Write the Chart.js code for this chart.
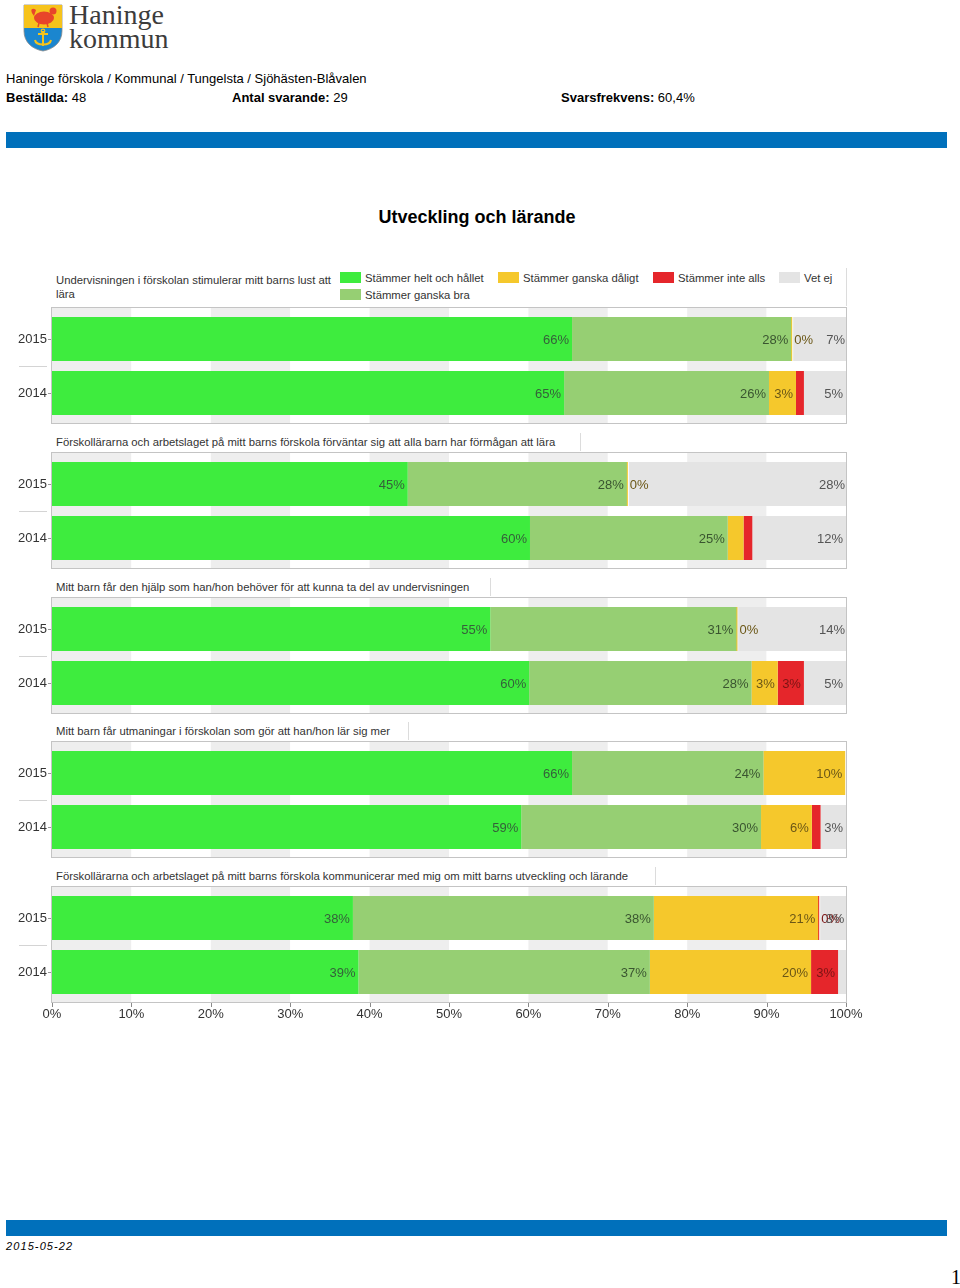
<!DOCTYPE html>
<html>
<head>
<meta charset="utf-8">
<script src="https://cdn.jsdelivr.net/npm/chart.js@4/dist/chart.umd.min.js"></script>
<style>
  body { margin: 0; width: 960px; height: 1288px; position: relative; overflow: hidden; background: #fff; font-family: "Liberation Sans", Arial, sans-serif; color: #000; }
  .a { position: absolute; white-space: nowrap; }
  .bar { position: absolute; left: 6px; width: 941px; height: 16px; background: #0070bb; }
  .q { position: absolute; left: 56px; font-size: 11.3px; line-height: 14px; color: #333; }
  .sep { position: absolute; width: 1px; background: #dcdcdc; }
  .lg { position: absolute; font-size: 11.3px; line-height: 12px; color: #333; white-space: nowrap; }
  .lg i { position: absolute; left: -25px; top: 0; width: 21px; height: 11px; }
  canvas { position: absolute; left: 0; }
</style>
</head>
<body>

<svg class="a" style="left:23px;top:4px" width="40" height="48" viewBox="0 0 40 48">
  <path d="M1 1 H39 V27 C39 38 31 45 20 47 C9 45 1 38 1 27 Z" fill="#1b86cf" stroke="#8a8a8a" stroke-width="0.8"/>
  <path d="M1 1 H39 V24 H1 Z" fill="#f6c31c"/>
  <ellipse cx="21" cy="14" rx="10" ry="6.5" fill="#e8452a"/>
  <path d="M11 12 C6 6 9 3 13 6 Z" fill="#e8452a"/>
  <circle cx="30" cy="7" r="3.5" fill="#e8452a"/>
  <path d="M16 19 L15 23 M24 19 L25 23" stroke="#e8452a" stroke-width="1.5"/>
  <path d="M20 27 V42 M15 30 H25 M12 36 C13 42 27 42 28 36" fill="none" stroke="#f6c31c" stroke-width="2"/>
  <circle cx="20" cy="27" r="1.8" fill="none" stroke="#f6c31c" stroke-width="1.2"/>
</svg>
<div class="a" style="left:69px;top:1px;font:28px/28px 'Liberation Serif',serif;color:#3c3c3c">Haninge</div>
<div class="a" style="left:69px;top:25px;font:28px/28px 'Liberation Serif',serif;color:#3c3c3c">kommun</div>

<div class="a" style="left:6px;top:71px;font-size:13px;line-height:16px">Haninge förskola / Kommunal / Tungelsta / Sjöhästen-Blåvalen</div>
<div class="a" style="left:6px;top:90px;font-size:13px;line-height:16px"><b>Beställda:</b> 48</div>
<div class="a" style="left:232px;top:90px;font-size:13px;line-height:16px"><b>Antal svarande:</b> 29</div>
<div class="a" style="left:561px;top:90px;font-size:13px;line-height:16px"><b>Svarsfrekvens:</b> 60,4%</div>
<div class="bar" style="top:132px"></div>

<div class="a" style="left:0;width:954px;text-align:center;top:206px;font-size:18px;line-height:22px;font-weight:bold">Utveckling och lärande</div>

<div id="qs"></div>
<div id="legend"></div>

<canvas id="c0" width="880" height="117" style="top:307px"></canvas>
<canvas id="c1" width="880" height="117" style="top:452px"></canvas>
<canvas id="c2" width="880" height="117" style="top:597px"></canvas>
<canvas id="c3" width="880" height="117" style="top:741px"></canvas>
<canvas id="c4" width="880" height="143" style="top:886px"></canvas>

<div class="bar" style="top:1220px"></div>
<div class="a" style="left:6px;top:1240px;font-size:11px;line-height:13px;font-style:italic;letter-spacing:1.1px">2015-05-22</div>
<div class="a" style="left:951px;top:1266px;font:20px/22px 'Liberation Serif',serif">1</div>

<script>
// ---- data (percent of respondents) ----
const years = ["2015", "2014"];
const questions = [
  "Undervisningen i förskolan stimulerar mitt barns lust att lära",
  "Förskollärarna och arbetslaget på mitt barns förskola förväntar sig att alla barn har förmågan att lära",
  "Mitt barn får den hjälp som han/hon behöver för att kunna ta del av undervisningen",
  "Mitt barn får utmaningar i förskolan som gör att han/hon lär sig mer",
  "Förskollärarna och arbetslaget på mitt barns förskola kommunicerar med mig om mitt barns utveckling och lärande"
];
const seriesNames = ["Stämmer helt och hållet", "Stämmer ganska bra", "Stämmer ganska dåligt", "Stämmer inte alls", "Vet ej"];
// one [2015, 2014] pair per question
const heltOchHallet = [[65.5, 64.5], [44.8, 60.2], [55.2, 60.1], [65.5, 59.1], [37.9, 38.6]];
const ganskaBra     = [[27.6, 25.8], [27.6, 24.9], [31.0, 28.0], [24.1, 30.2], [37.9, 36.7]];
const ganskaDaligt  = [[0, 3.4],     [0, 2.0],     [0, 3.3],     [10.3, 6.4], [20.7, 20.3]];
const inteAlls      = [[null, 1.0],  [null, 1.1],  [null, 3.3],  [null, 1.1], [0, 3.4]];
const vetEj         = [[6.9, 5.3],   [27.6, 11.8], [13.8, 5.3],  [null, 3.2], [3.4, 1.0]];
const xTicks = [0, 10, 20, 30, 40, 50, 60, 70, 80, 90, 100];

// ---- styles ----
const fills = ["#3eec3e", "#96cf73", "#f5c82c", "#e5262b", "#e4e4e4"];
const labelColors = ["#35603a", "#3a5530", "#6b5716", "#7c1414", "#555555"];
const questionTops = [273, 435, 580, 724, 869];
const questionLines = [846, 580, 490, 408, 655];
const allSeries = [heltOchHallet, ganskaBra, ganskaDaligt, inteAlls, vetEj];

Chart.defaults.font.family = "'Liberation Sans', Arial, sans-serif";

// question titles
const qs = document.getElementById("qs");
questions.forEach((q, i) => {
  const d = document.createElement("div");
  d.className = "q";
  d.style.top = questionTops[i] + "px";
  if (i === 0) { d.style.width = "280px"; d.style.whiteSpace = "normal"; } else { d.style.whiteSpace = "nowrap"; }
  d.textContent = q;
  qs.appendChild(d);
  const s = document.createElement("div");
  s.className = "sep";
  s.style.left = questionLines[i] + "px";
  s.style.top = (i === 0 ? 268 : questionTops[i] - 2) + "px";
  s.style.height = (i === 0 ? 38 : 18) + "px";
  qs.appendChild(s);
});

// legend (first panel only)
const legendPos = [[365, 272], [365, 289], [523, 272], [678, 272], [804, 272]];
const lg = document.getElementById("legend");
seriesNames.forEach((n, i) => {
  const d = document.createElement("div");
  d.className = "lg";
  d.style.left = legendPos[i][0] + "px";
  d.style.top = legendPos[i][1] + "px";
  d.innerHTML = '<i style="background:' + fills[i] + '"></i>';
  d.appendChild(document.createTextNode(n));
  lg.appendChild(d);
});

const panelPlugin = {
  id: "panel",
  beforeDatasetsDraw(chart, args, opts) {
    const { ctx, chartArea: a } = chart;
    const x = chart.scales.x, y = chart.scales.y;
    const top = a.top - 5, bottom = a.bottom + 4;
    ctx.save();
    for (let i = 0; i < xTicks.length - 1; i++) {
      const x0 = x.getPixelForValue(xTicks[i]), x1 = x.getPixelForValue(xTicks[i + 1]);
      ctx.fillStyle = i % 2 === 0 ? "#eeeeee" : "#ffffff";
      ctx.fillRect(x0, top, x1 - x0, bottom - top);
    }
    ctx.strokeStyle = "#c4c4c4";
    ctx.lineWidth = 1;
    ctx.strokeRect(Math.round(a.left) - 0.5, top + 0.5, Math.round(a.right - a.left) + 1, bottom - top - 1);
    // separator between the years, left of the plot
    const mid = Math.round((y.getPixelForValue(0) + y.getPixelForValue(1)) / 2) + 0.5;
    ctx.strokeStyle = "#d4d4d4";
    ctx.beginPath(); ctx.moveTo(19, mid); ctx.lineTo(47, mid); ctx.stroke();
    // small ticks at year labels
    ctx.strokeStyle = "#999";
    years.forEach((yr, i) => {
      const py = Math.round(y.getPixelForValue(i)) + 0.5;
      ctx.beginPath(); ctx.moveTo(a.left - 4, py); ctx.lineTo(a.left - 1, py); ctx.stroke();
    });
    if (opts.ticks) {
      ctx.strokeStyle = "#8a8a8a";
      xTicks.forEach(v => {
        const px = Math.round(x.getPixelForValue(v)) + 0.5;
        ctx.beginPath(); ctx.moveTo(px, bottom); ctx.lineTo(px, bottom + 4); ctx.stroke();
      });
    }
    ctx.restore();
  },
  afterDatasetsDraw(chart) {
    const ctx = chart.ctx;
    ctx.save();
    ctx.font = "13px 'Liberation Sans', Arial, sans-serif";
    ctx.textBaseline = "middle";
    chart.data.datasets.forEach((ds, di) => {
      const meta = chart.getDatasetMeta(di);
      meta.data.forEach((el, i) => {
        const v = ds.data[i];
        if (v === null || v === undefined) return;
        if (v !== 0 && v < 2.5) return;
        ctx.fillStyle = labelColors[di];
        const txt = Math.round(v) + "%";
        if (v === 0) {
          ctx.textAlign = "left";
          ctx.fillText(txt, el.x + 2, el.y + 1);
        } else {
          ctx.textAlign = "right";
          ctx.fillText(txt, el.x - 3, el.y + 1);
        }
      });
    });
    ctx.restore();
  }
};

questions.forEach((q, qi) => {
  const last = qi === questions.length - 1;
  new Chart(document.getElementById("c" + qi), {
    type: "bar",
    data: {
      labels: years,
      datasets: seriesNames.map((n, si) => ({
        label: n,
        data: allSeries[si][qi],
        backgroundColor: fills[si],
        borderWidth: 0,
        barPercentage: 44 / 54,
        categoryPercentage: 1,
        minBarLength: (si === 2 || si === 3) ? 2 : 0
      }))
    },
    options: {
      indexAxis: "y",
      responsive: false,
      animation: false,
      devicePixelRatio: 1,
      layout: { padding: { top: 5, bottom: last ? 0 : 4, left: 0, right: 34 } },
      plugins: {
        legend: { display: false },
        tooltip: { enabled: false },
        panel: { ticks: last }
      },
      scales: {
        x: {
          type: "linear",
          stacked: true,
          min: 0,
          max: 100,
          display: last,
          grid: { display: false, drawTicks: false },
          border: { display: false },
          ticks: { stepSize: 10, padding: 8, color: "#333", font: { size: 13 }, callback: v => v + "%" },
          afterFit(s) { s.height = last ? 30 : 0; }
        },
        y: {
          stacked: true,
          grid: { display: false, drawTicks: false },
          border: { display: false },
          ticks: { padding: 5, color: "#333", font: { size: 13 } },
          afterFit(s) { s.width = 52; s.paddingTop = 0; s.paddingBottom = 0; }
        }
      }
    },
    plugins: [panelPlugin]
  });
});
</script>
</body>
</html>
